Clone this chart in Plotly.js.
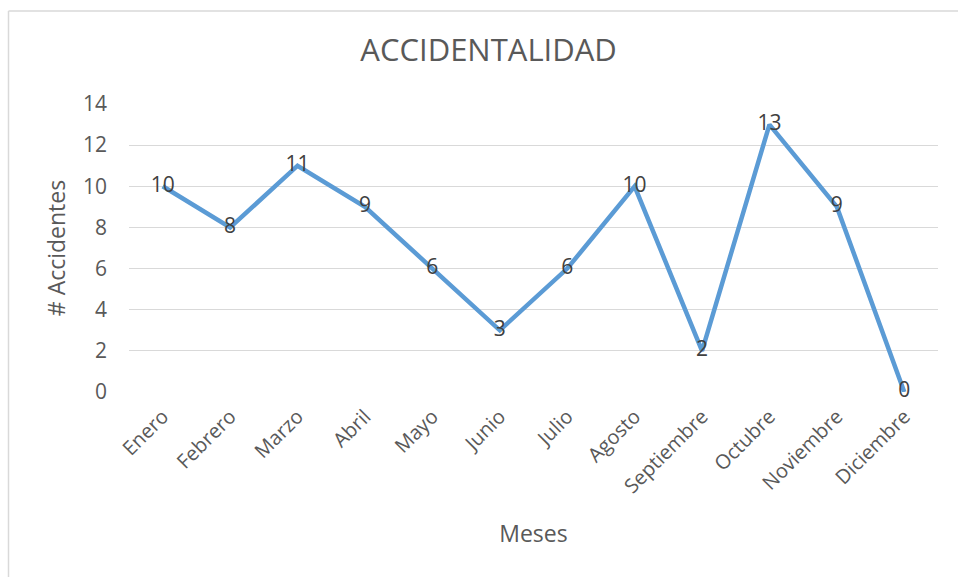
<!DOCTYPE html>
<html>
<head>
<meta charset="utf-8">
<script src="https://cdn.plot.ly/plotly-3.0.1.min.js"></script>
<style>
html,body{margin:0;padding:0;background:#fff;}
#chart{width:958px;height:577px;}
</style>
</head>
<body>
<div id="chart"></div>
<script>
const meses = ["Enero","Febrero","Marzo","Abril","Mayo","Junio","Julio","Agosto","Septiembre","Octubre","Noviembre","Diciembre"];
const accidentes = [10, 8, 11, 9, 6, 3, 6, 10, 2, 13, 9, 0];
const yTicks = [0, 2, 4, 6, 8, 10, 12, 14];

const W = 958, H = 577;
const m = {l: 129, r: 20, t: 104, b: 185};
const pw = W - m.l - m.r, ph = H - m.t - m.b;
function px(x){ return (x - m.l) / pw; }
function py(y){ return 1 - (y - m.t) / ph; }

const font = "Open Sans, Noto Sans, sans-serif";

const trace = {
  type: "scatter",
  mode: "lines+text",
  x: meses,
  y: accidentes,
  text: accidentes.map(String),
  textposition: "middle center",
  textfont: {family: font, size: 21, color: "#404040"},
  line: {color: "#5B9BD5", width: 4.5},
  hoverinfo: "skip",
  cliponaxis: false
};

const layout = {
  width: W, height: H,
  margin: m,
  paper_bgcolor: "#fff",
  plot_bgcolor: "#fff",
  showlegend: false,
  title: {text: "ACCIDENTALIDAD", font: {family: font, size: 31, color: "#595959"}, x: 0.51, xanchor: "center", y: 0.913, yanchor: "middle"},
  xaxis: {
    type: "category",
    tickangle: -45,
    tickfont: {family: font, size: 20, color: "#595959"},
    showgrid: false, zeroline: false, showline: false,
    ticks: "",
    ticklabelstandoff: 8,
    range: [-0.5, 11.5],
    automargin: false,
    title: {text: "Meses", font: {family: font, size: 23, color: "#595959"}, standoff: 28}
  },
  yaxis: {
    range: [0, 14],
    tickvals: yTicks,
    tickfont: {family: font, size: 21, color: "#595959"},
    gridcolor: "#D9D9D9", gridwidth: 1,
    zeroline: false, showline: false, ticks: "",
    ticklabelstandoff: 21,
    automargin: false,
    title: {text: "# Accidentes", font: {family: font, size: 23, color: "#595959"}, standoff: 10}
  },
  shapes: [
    {type: "line", xref: "paper", yref: "paper", x0: px(8.5), x1: px(8.5), y0: py(11), y1: py(578), line: {color: "#D9D9D9", width: 1.5}},
    {type: "line", xref: "paper", yref: "paper", x0: px(8.5), x1: px(959), y0: py(11), y1: py(11), line: {color: "#D9D9D9", width: 1.5}}
  ]
};

Plotly.newPlot("chart", [trace], layout, {staticPlot: true, displayModeBar: false});
</script>
</body>
</html>
